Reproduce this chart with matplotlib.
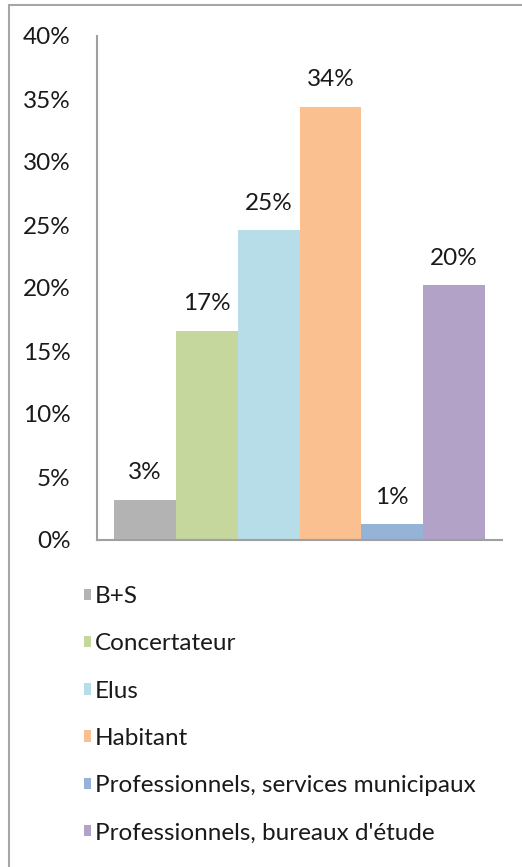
import matplotlib.pyplot as plt
from matplotlib.patches import Patch, Rectangle

categories = ["B+S", "Concertateur", "Elus", "Habitant",
              "Professionnels, services municipaux",
              "Professionnels, bureaux d'étude"]
values = [3.2, 16.6, 24.6, 34.4, 1.25, 20.2]
labels = ["3%", "17%", "25%", "34%", "1%", "20%"]
colors = ["#b3b3b3", "#c6d79e", "#b7dde8", "#fac090", "#95b3d7", "#b3a2c7"]
yticks = [0, 5, 10, 15, 20, 25, 30, 35, 40]

plt.rcParams["font.family"] = ["Lato", "DejaVu Sans"]
FS = 17.5

W, H = 522, 867
fig = plt.figure(figsize=(W / 100, H / 100), dpi=100)

# outer chart border (only left and top show in the crop)
fig.patches.append(Rectangle((9 / W, -0.1), 1.2, 1.1 - 5 / H,
                             transform=fig.transFigure, fill=False,
                             edgecolor="#a6a6a6", linewidth=1.5))

ax = fig.add_axes([97 / W, (H - 540) / H, 405 / W, 504 / H])
x = list(range(len(values)))
ax.bar(x, values, width=1.0, color=colors, label=categories)

for xi, v, lab in zip(x, values, labels):
    ax.annotate(lab, (xi, v), xytext=(0, 27), textcoords="offset pixels",
                ha="center", va="center", fontsize=FS, color="#1a1a1a")

ax.set_xlim(-0.774, 5.774)
ax.set_ylim(0, 40)
ax.set_yticks(yticks)
ax.set_yticklabels([f"{t}%" for t in yticks], fontsize=FS, color="#1a1a1a")
ax.set_xticks([])
ax.tick_params(axis="y", length=0, pad=19)
for s in ["top", "right"]:
    ax.spines[s].set_visible(False)
for s in ["left", "bottom"]:
    ax.spines[s].set_color("#a0a0a0")
    ax.spines[s].set_linewidth(1.5)

handles = [Patch(facecolor=c, label=n) for c, n in zip(colors, categories)]
fig.legend(handles=handles, loc="upper left",
           bbox_to_anchor=(72 / W, 1 - 574 / H), frameon=False,
           fontsize=FS, handlelength=0.3, handleheight=0.35,
           handletextpad=0.15, labelspacing=1.08, borderpad=0,
           labelcolor="#1a1a1a")

fig.savefig("out.png", dpi=100)
